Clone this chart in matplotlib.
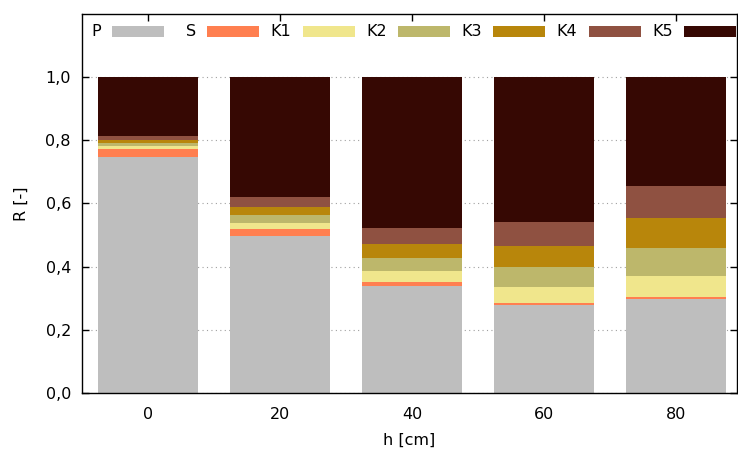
import matplotlib
matplotlib.use("Agg")
import matplotlib.pyplot as plt
from matplotlib.patches import Rectangle
from matplotlib.ticker import FuncFormatter
import numpy as np

# data
heights = ["0", "20", "40", "60", "80"]
labels = ["P", "S", "K1", "K2", "K3", "K4", "K5"]
P = [0.747, 0.497, 0.339, 0.278, 0.297]
S = [0.026, 0.022, 0.013, 0.008, 0.006]
K1 = [0.009, 0.020, 0.034, 0.049, 0.069]
K2 = [0.009, 0.024, 0.041, 0.063, 0.086]
K3 = [0.009, 0.027, 0.046, 0.067, 0.095]
K4 = [0.013, 0.030, 0.050, 0.075, 0.101]
K5 = [0.187, 0.380, 0.477, 0.460, 0.346]
colors = ["#bebebe", "#ff7f50", "#f0e68c", "#bdb76b", "#b8860b", "#8f5141", "#360803"]

plt.rcParams['font.family'] = 'DejaVu Sans'
plt.rcParams['font.size'] = 11.5

W, H = 738, 450
fig = plt.figure(figsize=(W / 100, H / 100), dpi=100)
ax = fig.add_axes([82 / W, 1 - 393 / H, 655 / W, 379 / H])

x = np.arange(len(heights))
bottom = np.zeros(len(heights))
series = [P, S, K1, K2, K3, K4, K5]
for vals, col in zip(series, colors):
    ax.bar(x, vals, width=0.76, bottom=bottom, color=col, linewidth=0, zorder=2)
    bottom += np.array(vals)

ax.set_xlim(-0.5, 4.462)
ax.set_ylim(0, 1.2)
ax.set_xticks(x)
ax.set_xticklabels(heights)
ax.set_yticks([0, 0.2, 0.4, 0.6, 0.8, 1.0])
ax.yaxis.set_major_formatter(FuncFormatter(lambda v, p: f"{v:.1f}".replace(".", ",")))
ax.yaxis.grid(True, linestyle=(0, (1, 3)), color="#a0a0a0", linewidth=0.8, zorder=0)
ax.set_axisbelow(True)
ax.tick_params(direction="in", top=True, right=True, length=5, width=1)
ax.tick_params(axis="x", pad=10)
ax.tick_params(axis="y", pad=8)
for sp in ax.spines.values():
    sp.set_linewidth(1)
ax.set_xlabel("h [cm]", labelpad=8)
ax.set_ylabel("R [-]", labelpad=12)

# gnuplot style key: label right-aligned, then a box sample
for i, (lab, col) in enumerate(zip(labels, colors)):
    sx = 112 + 95.3 * i
    fig.patches.append(Rectangle((sx / W, 1 - 37 / H), 52 / W, 11 / H,
                                 transform=fig.transFigure, facecolor=col,
                                 edgecolor="none", zorder=5))
    fig.text((sx - 11) / W, 1 - 31.5 / H, lab, ha="right", va="center")

fig.savefig("out.png", dpi=100)
